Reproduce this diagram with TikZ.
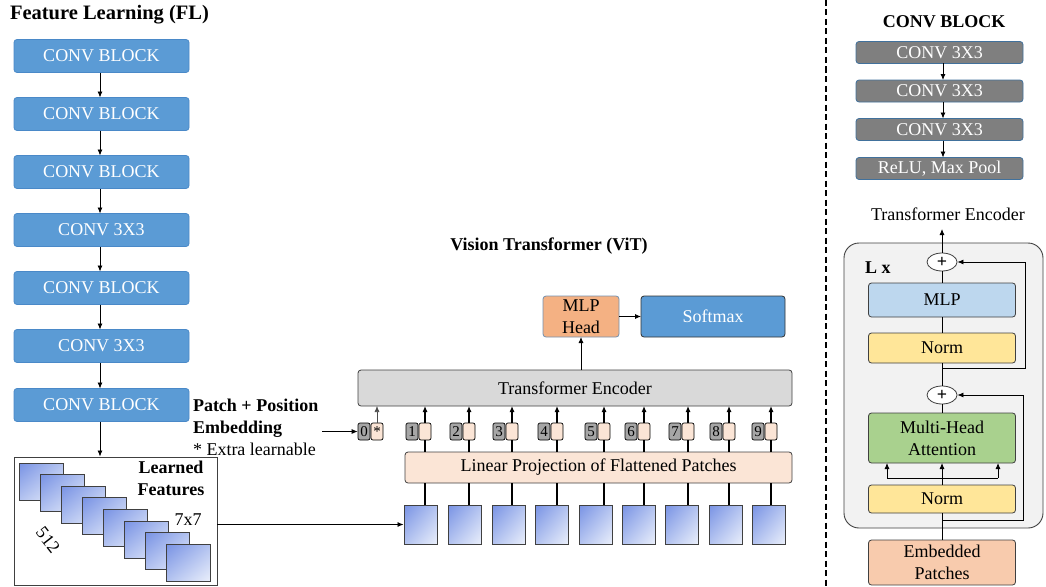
\documentclass[tikz,border=0pt]{standalone}
\usepackage{fontspec}
\setmainfont{Liberation Serif}
\usetikzlibrary{arrows.meta,shapes.geometric,shadings}
\definecolor{blueb}{HTML}{5B9BD5}
\definecolor{bluebd}{HTML}{4A89C8}
\definecolor{grayb}{HTML}{7F7F7F}
\definecolor{graybd}{HTML}{41719C}
\definecolor{encg}{HTML}{D9D9D9}
\definecolor{peach}{HTML}{FBE5D6}
\definecolor{mlpho}{HTML}{F4B183}
\definecolor{mlphb}{HTML}{7391B0}
\definecolor{tokgray}{HTML}{A6A6A6}
\definecolor{outerg}{HTML}{F2F2F2}
\definecolor{mlpb}{HTML}{BDD7EE}
\definecolor{normy}{HTML}{FFE699}
\definecolor{mhag}{HTML}{A9D18E}
\definecolor{embo}{HTML}{F8CBAD}
\definecolor{fmA}{HTML}{7892E4}
\definecolor{fmB}{HTML}{B3C3F0}
\definecolor{fmC}{HTML}{EAEFFB}
\definecolor{lineg}{HTML}{404040}
\begin{document}
\begin{tikzpicture}[x=1pt,y=-1pt,
  txt/.style={font=\fontsize{18}{22}\selectfont, inner sep=0pt, outer sep=0pt, align=center},
  box/.style={txt, draw=lineg, line width=0.8pt, rounded corners=3pt},
  bluebox/.style={box, fill=blueb, draw=bluebd, text=white, minimum width=175, minimum height=33},
  graybox/.style={box, fill=grayb, draw=graybd, text=white, minimum width=167, minimum height=22},
  encbox/.style={box, draw=lineg, minimum width=147},
  fmap/.style={draw=lineg, line width=0.9pt, inner sep=0pt, minimum width=44, minimum height=37,
     upper left=fmA, lower right=fmC, upper right=fmB, lower left=fmB},
  patch/.style={draw=lineg, line width=0.9pt, inner sep=0pt, minimum width=33, minimum height=39,
     upper left=fmA, lower right=fmC, upper right=fmB, lower left=fmB},
  tokg/.style={draw=black, fill=tokgray, rounded corners=2pt, line width=0.7pt, inner sep=0pt,
     minimum width=12, minimum height=17, font=\fontsize{15}{15}\selectfont},
  toko/.style={tokg, fill=peach},
  plus/.style={ellipse, draw=lineg, fill=white, line width=0.8pt, inner sep=0pt, minimum width=30, minimum height=18, font=\fontsize{18}{18}\selectfont\bfseries},
  arr/.style={-{Latex[length=6pt,width=5pt]}, line width=0.8pt},
  ln/.style={line width=0.8pt}
]
\useasboundingbox (0,0) rectangle (1046,586);

% ---------- Feature Learning ----------
\node[txt, font=\fontsize{20.5}{24}\selectfont\bfseries, anchor=west] (fltitle) at (10,15) {Feature Learning (FL)};
\foreach \i/\y/\t in {1/56/CONV BLOCK, 2/114/CONV BLOCK, 3/172/CONV BLOCK, 4/230/CONV 3X3, 5/288/CONV BLOCK, 6/346/CONV 3X3, 7/405/CONV BLOCK}
  \node[bluebox] (c\i) at (101.5,\y) {\t};
\foreach \i/\j in {1/2,2/3,3/4,4/5,5/6,6/7}
  \draw[arr] (c\i.south -| 100,0) -- (c\j.north -| 100,0);

\node[draw=lineg, line width=0.9pt, inner sep=0pt, minimum width=203, minimum height=128] (lf) at (115.5,521) {};
\draw[arr] (c7.south -| 100,0) -- (lf.north -| 100,0);
\foreach \k in {0,...,7}
  \node[fmap] (f\k) at ({41+21*\k},{481.5+11.6*\k}) {};
\node[txt, font=\fontsize{18}{22}\selectfont\bfseries] (lft) at (171,478) {Learned\\Features};
\node[txt] (sev) at (188,520) {7x7};
\node[txt, rotate=-52] (ftw) at (48,540) {512};

% ---------- Vision Transformer ----------
\node[txt, font=\fontsize{18}{22}\selectfont\bfseries] (vittitle) at (549,246) {Vision Transformer (ViT)};
\node[box, fill=encg, draw=lineg, minimum width=434, minimum height=36] (enc) at (575,388) {Transformer Encoder};
\node[box, fill=peach, draw=lineg, minimum width=387, minimum height=31] (proj) at (598.5,467.5) {Linear Projection of Flattened Patches};
\node[box, fill=mlpho, draw=mlphb, minimum width=76, minimum height=41] (mlph) at (581,316.5) {MLP\\Head};
\node[box, fill=blueb, draw=black!80, text=white, minimum width=144, minimum height=41] (soft) at (713,316.5) {Softmax};
\draw[arr] (mlph.south |- enc.north) -- (mlph.south);
\draw[arr] (mlph.east) -- (soft.west);

\node[txt, anchor=west, align=left] (pe) at (193,427) {\textbf{Patch + Position}\\\textbf{Embedding}\\* Extra learnable};
\coordinate (pec) at (322,431.5);

% tokens
\node[tokg] (g0) at (364,431.5) {0};
\node[toko] (o0) at (377,431.5) {*};
\foreach \i/\x in {1/406,2/450,3/493,4/538,5/585,6/625,7/669,8/710,9/752} {
  \node[tokg] (g\i) at ({\x+6},431.5) {\i};
  \node[toko] (o\i) at ({\x+19},431.5) {};
}
\draw[arr] (pec) -- (g0.west);
\draw[arr, line width=0.6pt, draw=black!70] (o0.north) -- (o0.north |- enc.south);

% patches
\foreach \i/\x in {1/404,2/448,3/492,4/535,5/579,6/622,7/665,8/709,9/752}
  \node[patch] (p\i) at ({\x+16.5},524.5) {};
\foreach \i in {1,...,9} {
  \draw[arr, line width=1.1pt] (o\i.north) -- (o\i.north |- enc.south);
  \draw[ln, line width=1.1pt] (o\i.south) -- (o\i.south |- proj.north);
  \draw[ln, line width=1.1pt] (o\i.south |- p\i.north) -- (o\i.south |- proj.south);
}
\draw[arr] (lf.east |- p1.west) -- (p1.west);

% ---------- divider ----------
\draw[line width=2pt, dash pattern=on 6pt off 3.5pt] (826,0) -- (826,586);

% ---------- CONV BLOCK detail ----------
\node[txt, font=\fontsize{18}{22}\selectfont\bfseries] (cbtitle) at (944,22) {CONV BLOCK};
\node[graybox] (k1) at (939.5,52.5) {CONV 3X3};
\node[graybox] (k2) at (939.5,91) {CONV 3X3};
\node[graybox] (k3) at (939.5,129.5) {CONV 3X3};
\node[graybox] (k4) at (939.5,168.5) {ReLU, Max Pool};
\foreach \i/\j in {1/2,2/3,3/4}
  \draw[arr] (k\i.south -| 943,0) -- (k\j.north -| 943,0);

% ---------- Transformer Encoder detail ----------
\node[txt] (tetitle) at (948,214) {Transformer Encoder};
\node[draw=lineg, fill=outerg, line width=0.9pt, rounded corners=15pt, minimum width=199, minimum height=285, inner sep=0pt] (outer) at (943.5,385.5) {};
\node[txt, font=\fontsize{18}{22}\selectfont\bfseries, anchor=west] (lx) at (865,268) {L x};
\node[plus] (pl1) at (942,262) {+};
\node[plus] (pl2) at (942,395) {+};
\node[encbox, fill=mlpb, minimum height=34] (mlp) at (942,300) {MLP};
\node[encbox, fill=normy, minimum height=30] (n1) at (942,348) {Norm};
\node[encbox, fill=mhag, minimum height=50] (mha) at (942,438) {Multi-Head\\Attention};
\node[encbox, fill=normy, minimum height=28] (n2) at (942,499) {Norm};
\node[encbox, fill=embo, minimum height=45] (emb) at (942,562.5) {Embedded\\Patches};
\coordinate (teout) at (942,229);
\draw[arr] (pl1.north) -- (teout);
\draw[ln] (mlp.north) -- (pl1.south);
\draw[ln] (n1.north) -- (mlp.south);
\draw[ln] (n1.south) -- (pl2.north);
\draw[ln] (mha.north) -- (pl2.south);
\coordinate (r1) at (942,368);
\coordinate (r1a) at (1025,368);
\draw[arr] (r1) -- (r1a) |- (pl1.east);
\coordinate (r2) at (942,520);
\coordinate (r2a) at (1023,520);
\draw[arr] (r2) -- (r2a) |- (pl2.east);
\draw[ln] (emb.north) -- (n2.south);
\coordinate (sp) at (942,478);
\coordinate (spl) at (887,478);
\coordinate (spr) at (998,478);
\draw[ln] (n2.north) -- (sp);
\draw[ln] (spl) -- (spr);
\draw[arr] (sp) -- (mha.south);
\draw[arr] (spl) -- (spl |- mha.south);
\draw[arr] (spr) -- (spr |- mha.south);
\end{tikzpicture}
\end{document}
